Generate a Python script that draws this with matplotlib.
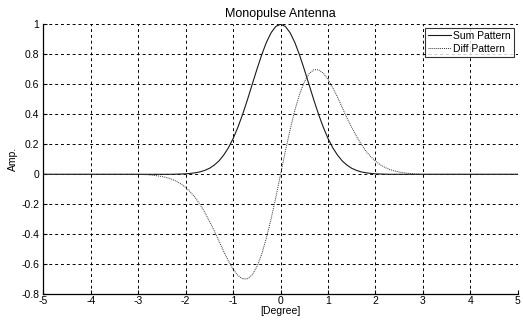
import numpy as np
import matplotlib
matplotlib.use("Agg")
import matplotlib.pyplot as plt

# angle grid [deg] and values
deg = [-5.0, -3.0, -2.9, -2.8, -2.7, -2.6, -2.5, -2.4, -2.3, -2.2, -2.1,
       -2.0, -1.9, -1.8, -1.7, -1.6, -1.5, -1.4, -1.3, -1.2, -1.1,
       -1.0, -0.9, -0.8, -0.7, -0.6, -0.5, -0.4, -0.3, -0.2, -0.1,
       0.0, 0.1, 0.2, 0.3, 0.4, 0.5, 0.6, 0.7, 0.8, 0.9,
       1.0, 1.1, 1.2, 1.3, 1.4, 1.5, 1.6, 1.7, 1.8, 1.9,
       2.0, 2.1, 2.2, 2.3, 2.4, 2.5, 2.6, 2.7, 2.8, 2.9, 3.0, 5.0]

sum_half = [1.0, 0.986, 0.944, 0.879, 0.795, 0.699, 0.598, 0.496, 0.400, 0.314,
            0.239, 0.177, 0.128, 0.089, 0.061, 0.040, 0.026, 0.016, 0.010, 0.006,
            0.003, 0.002, 0.001, 0.0, 0.0, 0.0, 0.0, 0.0, 0.0, 0.0, 0.0, 0.0]
diff_half = [0.0, 0.153, 0.297, 0.426, 0.534, 0.616, 0.671, 0.697, 0.697, 0.674,
             0.633, 0.577, 0.514, 0.445, 0.375, 0.312, 0.253, 0.200, 0.155, 0.118,
             0.088, 0.064, 0.046, 0.032, 0.022, 0.015, 0.010, 0.006, 0.003, 0.001,
             0.0, 0.0]

# sum is symmetric, diff is antisymmetric
sum_pat = sum_half[:0:-1] + sum_half
diff_pat = [-v for v in diff_half[:0:-1]] + diff_half

xticks = [-5, -4, -3, -2, -1, 0, 1, 2, 3, 4, 5]
yticks = [-0.8, -0.6, -0.4, -0.2, 0, 0.2, 0.4, 0.6, 0.8, 1]

plt.rcParams['font.family'] = ['Liberation Sans', 'DejaVu Sans']

fig = plt.figure(figsize=(5.23, 3.22), dpi=100)
ax = fig.add_axes([0.083, 0.086, 0.907, 0.8385])

ax.plot(deg, sum_pat, color="#1a1a1a", lw=0.8, label="Sum Pattern")
ax.plot(deg, diff_pat, color="#333333", lw=0.7, linestyle=(0, (1, 1)), label="Diff Pattern")

ax.set_xlim(-5, 5)
ax.set_ylim(-0.8, 1)
ax.set_xticks(xticks)
ax.set_xticklabels([str(t) for t in xticks], fontsize=7.5)
ax.set_yticks(yticks)
ax.set_yticklabels(["%g" % t for t in yticks], fontsize=7.5)
ax.tick_params(direction="in", length=3, width=0.8)
ax.tick_params(axis="x", pad=1.5)
ax.tick_params(axis="y", pad=3)

ax.grid(True, color="black", linestyle=(0, (3, 3)), linewidth=0.7)
ax.spines["top"].set_visible(False)
ax.spines["right"].set_visible(False)
for s in ["left", "bottom"]:
    ax.spines[s].set_linewidth(0.9)

ax.set_title("Monopulse Antenna", fontsize=9, pad=5)
ax.set_xlabel("[Degree]", fontsize=7.5, labelpad=0)
ax.set_ylabel("Amp.", fontsize=7.5, labelpad=2)

leg = ax.legend(loc="upper right", fontsize=7.5, frameon=True, fancybox=False,
                borderpad=0.3, handlelength=2.2, handletextpad=0.2,
                labelspacing=0.25, borderaxespad=0.35)
leg.get_frame().set_edgecolor("black")
leg.get_frame().set_linewidth(0.8)

fig.savefig("out.png", dpi=100)
